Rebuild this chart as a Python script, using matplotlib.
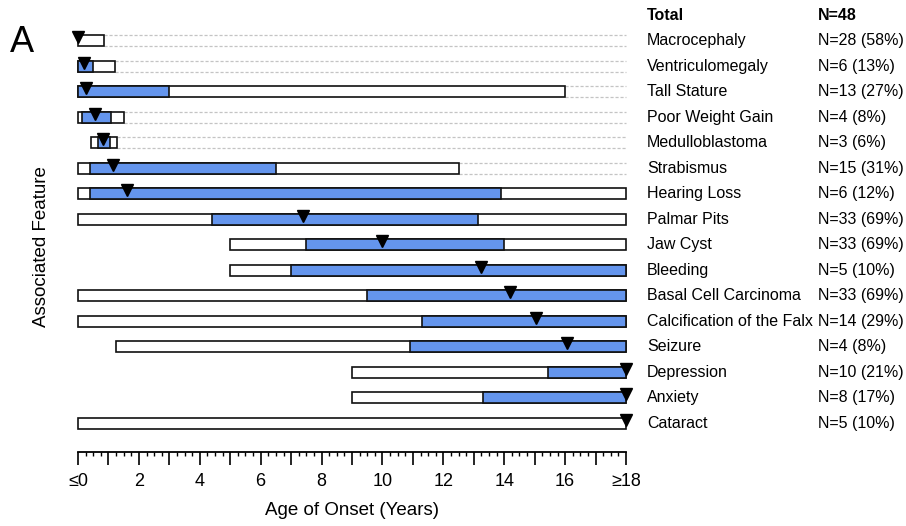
import matplotlib
matplotlib.use("Agg")
import matplotlib.pyplot as plt
from matplotlib.ticker import FixedLocator, MultipleLocator
from matplotlib.transforms import blended_transform_factory

plt.rcParams['font.family'] = ['Liberation Sans', 'DejaVu Sans']

features = ["Macrocephaly", "Ventriculomegaly", "Tall Stature", "Poor Weight Gain",
            "Medulloblastoma", "Strabismus", "Hearing Loss", "Palmar Pits",
            "Jaw Cyst", "Bleeding", "Basal Cell Carcinoma", "Calcification of the Falx",
            "Seizure", "Depression", "Anxiety", "Cataract"]
counts = [28, 6, 13, 4, 3, 15, 6, 33, 33, 5, 33, 14, 4, 10, 8, 5]
percents = [58, 13, 27, 8, 6, 31, 12, 69, 69, 10, 69, 29, 8, 21, 17, 10]
total = 48

# onset range (min, max), interquartile range and median, in years
age_min = [0, 0, 0, 0, 0.42, 0, 0, 0, 5, 5, 0, 0, 1.25, 9, 9, 0]
age_max = [0.85, 1.2, 16, 1.5, 1.27, 12.5, 18, 18, 18, 18, 18, 18, 18, 18, 18, 18]
age_q1 = [0, 0, 0, 0.13, 0.65, 0.38, 0.38, 4.4, 7.5, 7.0, 9.5, 11.3, 10.9, 15.45, 13.3, 18]
age_q3 = [0, 0.5, 3.0, 1.07, 1.05, 6.5, 13.9, 13.15, 14.0, 18, 18, 18, 18, 18, 18, 18]
age_median = [0, 0.2, 0.25, 0.55, 0.83, 1.15, 1.6, 7.4, 10.0, 13.25, 14.2, 15.05, 16.05, 18, 18, 18]

tick_labels = ["≤0", "", "2", "", "4", "", "6", "", "8", "", "10", "", "12", "", "14", "", "16", "", "≥18"]

W, H = 906, 526
fig = plt.figure(figsize=(W / 100, H / 100), dpi=100)
ax_left, ax_right, ax_top, ax_bottom = 78, 626, 20, 452
ax = fig.add_axes([ax_left / W, 1 - ax_bottom / H, (ax_right - ax_left) / W, (ax_bottom - ax_top) / H])

row0, step = 40.8, 25.5
ax.set_ylim((ax_bottom - row0) / step, (ax_top - row0) / step)
ax.set_xlim(0, 18)

bar_h = 0.42
blue = "#6495ed"
rows = list(range(len(features)))

for i in rows:
    # dashed guides from the end of the range to the right edge
    if age_max[i] < 18:
        for dy in (-bar_h / 2, bar_h / 2):
            ax.plot([age_max[i], 18], [i + dy, i + dy], color="#c4c4c4", lw=0.9,
                    dashes=(2.5, 1.5), zorder=1, clip_on=False)
    ax.barh(i, age_max[i] - age_min[i], left=age_min[i], height=bar_h,
            color="white", edgecolor="#111111", lw=1.2, zorder=2, clip_on=False)
    if age_q3[i] > age_q1[i]:
        ax.barh(i, age_q3[i] - age_q1[i], left=age_q1[i], height=bar_h,
                color=blue, edgecolor="#111111", lw=1.2, zorder=3, clip_on=False)

ax.plot(age_median, [r - 0.13 for r in rows], linestyle="none", marker="v",
        markersize=9, color="black", zorder=4, clip_on=False)

for s in ("left", "right", "top"):
    ax.spines[s].set_visible(False)
ax.spines["bottom"].set_linewidth(1.3)
ax.set_yticks([])
ax.xaxis.set_major_locator(FixedLocator(range(19)))
ax.set_xticklabels(tick_labels)
ax.xaxis.set_minor_locator(MultipleLocator(0.25))
ax.tick_params(axis="x", which="major", direction="out", length=9, width=1.2, labelsize=13, pad=6)
ax.tick_params(axis="x", which="minor", direction="out", length=3, width=1.0)
ax.set_xlabel("Age of Onset (Years)", fontsize=13.5, labelpad=9)

# feature names and counts at the right
trans = blended_transform_factory(fig.transFigure, ax.transData)
x_name, x_count = 647 / W, 818 / W
ax.text(x_name, -1, "Total", transform=trans, fontsize=11.5, fontweight="bold", va="center")
ax.text(x_count, -1, "N=%d" % total, transform=trans, fontsize=11.5, fontweight="bold", va="center")
for i in rows:
    ax.text(x_name, i, features[i], transform=trans, fontsize=11.5, va="center")
    ax.text(x_count, i, "N=%d (%d%%)" % (counts[i], percents[i]), transform=trans,
            fontsize=11.5, va="center")

fig.text(42 / W, 1 - 247 / H, "Associated Feature", rotation=90, fontsize=13.5,
         ha="center", va="center")
fig.text(10 / W, 1 - 43 / H, "A", fontsize=26, va="center", ha="left")

fig.savefig("out.png", dpi=100)
